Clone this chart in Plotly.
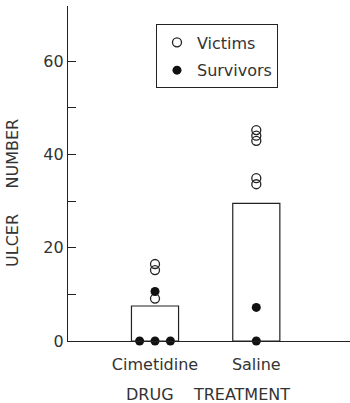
import plotly.graph_objects as go

# Treatment groups and ulcer counts per animal
treatments = ["Cimetidine", "Saline"]
bar_heights = [7.5, 29.5]
victims = {
    "Cimetidine": [16.5, 15.2, 9.1],
    "Saline": [45.2, 44.0, 42.9, 34.9, 33.6],
}
survivors = {
    "Cimetidine": [10.6, 0, 0, 0],
    "Saline": [7.2, 0],
}
y_ticks = [0, 10, 20, 30, 40, 50, 60]
y_tick_text = ["0", "", "20", "", "40", "", "60"]

FONT = "DejaVu Sans"
INK = "#222"
TXT = "#333"
FS = 16


def spread(values, centre, step=0.152):
    """Spread tied values sideways so each animal stays visible."""
    xs = []
    for i, v in enumerate(values):
        n = values.count(v)
        if n > 1:
            k = [j for j, w in enumerate(values) if w == v].index(i)
            xs.append(centre + (k - (n - 1) / 2) * step)
        else:
            xs.append(centre)
    return xs


pos = {t: i + 1 for i, t in enumerate(treatments)}

fig = go.Figure()
fig.add_trace(go.Bar(
    x=[pos[t] for t in treatments], y=bar_heights, width=0.465,
    marker=dict(color="white", line=dict(color=INK, width=1.2)),
    showlegend=False, hoverinfo="skip",
))

vx, vy, sx, sy = [], [], [], []
for t in treatments:
    vx += spread(victims[t], pos[t]); vy += victims[t]
    sx += spread(survivors[t], pos[t]); sy += survivors[t]

fig.add_trace(go.Scatter(
    x=vx, y=vy, mode="markers", name="Victims", legendgroup="v",
    marker=dict(symbol="circle-open", size=9, color=INK, line=dict(width=1.3)),
    cliponaxis=False,
))
fig.add_trace(go.Scatter(
    x=sx, y=sy, mode="markers", name="Survivors", legendgroup="s",
    marker=dict(symbol="circle", size=9, color="#111"),
    cliponaxis=False,
))

# axis titles placed as free text
fig.add_annotation(
    text="ULCER\u00a0\u00a0\u00a0\u00a0\u00a0NUMBER", textangle=-90,
    xref="paper", yref="paper", x=-0.195, y=0.442,
    xanchor="center", yanchor="middle", showarrow=False,
    font=dict(family=FONT, size=FS, color=TXT),
)
fig.add_annotation(
    text="DRUG\u00a0\u00a0\u00a0\u00a0TREATMENT",
    xref="paper", yref="paper", x=0.497, y=-0.161,
    xanchor="center", yanchor="middle", showarrow=False,
    font=dict(family=FONT, size=FS, color=TXT),
)

fig.update_layout(
    width=350, height=403,
    margin=dict(l=68, r=0, t=6, b=62, autoexpand=False),
    paper_bgcolor="white", plot_bgcolor="white",
    font=dict(family=FONT, size=FS, color=TXT),
    showlegend=True,
    legend=dict(
        x=0.312, y=0.945, xanchor="left", yanchor="top",
        bordercolor=INK, borderwidth=1, bgcolor="white",
        font=dict(size=FS, color=TXT), tracegroupgap=4,
        traceorder="grouped",
    ),
    xaxis=dict(
        range=[0.141, 2.925], tickvals=[1, 2], ticktext=treatments,
        showline=True, linecolor=INK, linewidth=1.2,
        ticks="outside", ticklen=9, tickcolor="rgba(0,0,0,0)",
        showgrid=False, zeroline=False, automargin=False,
    ),
    yaxis=dict(
        range=[0, 71.8], tickvals=y_ticks, ticktext=y_tick_text,
        showline=True, linecolor=INK, linewidth=1.2,
        ticks="inside", ticklen=8, tickcolor=INK, tickwidth=1.2,
        showgrid=False, zeroline=False, automargin=False,
    ),
)

fig.write_html("out.html")
